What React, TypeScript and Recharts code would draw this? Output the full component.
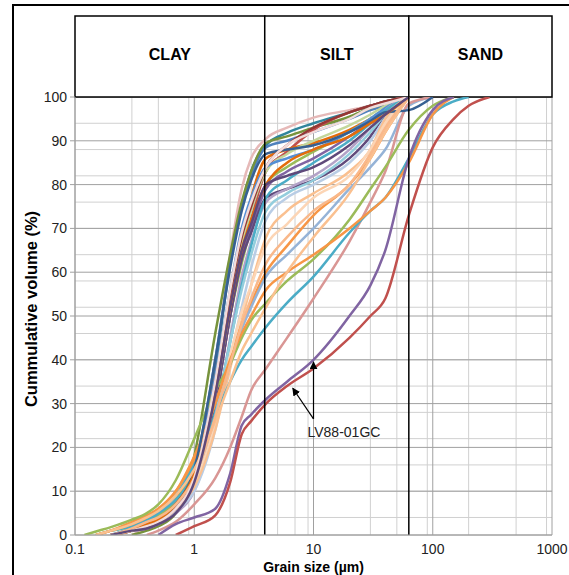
import React from 'react'
import { LineChart, Line, XAxis, YAxis, CartesianGrid, ReferenceLine, ReferenceArea, ReferenceDot } from 'recharts'

const _ = null

// grain sizes (µm) the analyser reports cumulative volume at
const grainSizes = [0.12, 0.15, 0.2, 0.3, 0.4, 0.5, 0.7, 1, 1.5, 2, 2.5, 3, 4, 6, 10, 20, 30, 40, 63, 100, 150, 200, 300]

// cumulative volume (%) per sample, aligned with grainSizes
const s01 = [_, _, _, 0, 1.5, 3, 6, 13, 38, 64, 79, 86, 90.5, 93, 95.3, 97, 98, 99, 100]
const s02 = [_, _, 0, 1, 2, 3, 6, 14, 38, 62, 75, 83, 89, 91.8, 94, 96.5, 98, 99, 100]
const s03 = [_, _, 0, 1.5, 2.5, 4, 7, 15, 40, 62, 75, 82, 88.5, 90, 92, 95, 97, 98, 100]
const s04 = [_, _, _, 0, 1, 2, 5, 18, 46, 64, 76, 83, 89.5, 91, 93, 95.5, 97.5, 98.5, 100]
const s05 = [_, _, 0, 1, 2, 3, 6, 12, 30, 50, 63, 72, 83, 87.5, 92.5, 96.5, 98, 99, 100]
const s06 = [_, _, 0, 1, 2.5, 4, 8, 16, 36, 55, 68, 77, 86, 88, 89.5, 92.5, 95, 97, 100]
const s07 = [_, 0, 1, 2, 3.5, 4.5, 8, 15, 33, 50, 62, 70, 80, 84, 87.5, 92, 95, 97.5, 100]
const s08 = [_, _, 0, 1, 2, 3, 6, 12, 30, 50, 63, 70, 79, 83, 86, 91, 94.5, 97, 100]
const s09 = [_, _, 0, 1, 1.5, 2.5, 5, 11, 30, 50, 63, 69, 77, 79, 81, 86, 91, 96, 100]
const s10 = [_, _, 0, 1, 2, 3, 6, 12, 32, 52, 66, 74, 83, 87, 90, 93.5, 96, 98, 100]
const s11 = [_, _, 0, 1, 2.5, 3.5, 7, 14, 36, 56, 70, 77, 84, 86, 88, 92, 95, 97.5, 100]
const s12 = [_, _, 0, 1, 1.5, 2.5, 5, 10, 26, 45, 59, 67, 76, 79, 82, 88, 93, 97, 100]
const s13 = [_, 0, 1, 2, 3.5, 5, 8, 14, 28, 44, 57, 66, 77, 81, 85, 90, 94, 97, 100]
const s14 = [_, _, 0, 1, 2, 3, 5.5, 11, 27, 44, 56, 64, 74, 78, 81, 87, 92, 96, 100]
const s15 = [_, _, 0, 1, 2, 3, 5.5, 10, 24, 40, 52, 61, 72, 77, 80, 85, 90, 95, 100]
const s16 = [_, _, 0, 1, 2, 3, 6, 11, 24, 38, 49, 57, 68, 74, 78, 83, 88, 95, 100]
const s17 = [_, 0, 1, 3, 4.5, 6, 10, 17, 30, 40, 48, 53, 60, 66, 73, 80, 86, 92, 100]
const s18 = [_, _, 0, 1, 2, 3, 6, 12, 26, 41, 51, 57, 66, 71, 77, 82, 88, 94, 100]
const s19 = [_, _, 0, 1, 2.5, 3.5, 7, 13, 27, 39, 47, 52, 59, 64, 70, 79, 84, 88, 98, 100]
const s20 = [_, _, _, _, 0, 1, 3, 7, 13, 20, 27, 33, 38, 45, 54, 67, 76, 83, 98.5, 100]
const s21 = [0, 0.8, 1.8, 3.5, 5, 7, 12.5, 22, 33, 39, 45, 49, 53, 58, 63, 72, 79, 84, 92.5, 98, 100]
const s22 = [_, _, 0, 1.5, 3, 5, 9, 16, 27, 35, 40, 43, 47.5, 53, 59, 69, 74, 77, 86, 96, 99, 100]
const s23 = [_, 0, 1, 2.5, 4, 6, 10, 18, 30, 40, 46, 50, 56, 60, 64, 70, 74, 77, 85, 96, 100]
const s26 = [_, _, 0, 1, 2, 3.5, 7, 15, 40, 61, 74, 81, 87, 88, 89, 92, 94.5, 96.5, 97, 100]
const s27 = [_, _, 0, 1, 2, 3, 6, 13, 34, 55, 68, 75, 84, 89, 93, 96.5, 98, 99, 100]
const s28 = [_, _, 0, 1, 2.5, 3.5, 7, 14, 33, 52, 65, 72, 80, 85, 88, 91, 94, 96, 100]
const s29 = [_, 0, 1, 2.5, 4, 5.5, 9, 15, 26, 35, 42, 46, 52, 60, 68, 78, 86, 92, 100]
const s30 = [_, _, 0, 1.5, 3, 4, 7, 13, 27, 39, 48, 54, 62, 68, 74, 80, 87, 93, 100]
const s31 = [_, _, 0, 1, 2, 3, 6, 13, 35, 56, 69, 76, 84, 89, 92, 95, 97.5, 98.5, 100]
const s32 = [_, _, 0, 1, 1.5, 2.5, 5, 12, 32, 52, 65, 71, 80, 82, 84, 89, 93, 96, 100]
// LV88-01GC
const lv88a = [_, _, _, _, _, 0, 2.5, 4, 6, 14, 25, 27.5, 31, 35, 40, 50, 57, 65, 86, 97, 100]
const lv88b = [_, _, _, _, _, _, 0, 2, 4.5, 12, 23, 26, 30, 34, 38, 45, 50, 54, 73, 88.5, 95, 98, 100]

const series = [
  { key: 's01', color: '#E6B9B8', values: s01 },
  { key: 's02', color: '#31859C', values: s02 },
  { key: 's03', color: '#4F81BD', values: s03 },
  { key: 's04', color: '#77933C', values: s04 },
  { key: 's05', color: '#C0504D', values: s05 },
  { key: 's06', color: '#E46C0A', values: s06 },
  { key: 's07', color: '#9BBB59', values: s07 },
  { key: 's08', color: '#8064A2', values: s08 },
  { key: 's09', color: '#604A7B', values: s09 },
  { key: 's10', color: '#C3D69B', values: s10 },
  { key: 's11', color: '#558ED5', values: s11 },
  { key: 's12', color: '#B3A2C7', values: s12 },
  { key: 's13', color: '#4BACC6', values: s13 },
  { key: 's14', color: '#93CDDD', values: s14 },
  { key: 's15', color: '#B9CDE5', values: s15 },
  { key: 's16', color: '#FAC090', values: s16 },
  { key: 's17', color: '#F79646', values: s17 },
  { key: 's18', color: '#FCD5B5', values: s18 },
  { key: 's19', color: '#95B3D7', values: s19 },
  { key: 's20', color: '#D99694', values: s20 },
  { key: 's21', color: '#9BBB59', values: s21 },
  { key: 's22', color: '#4BACC6', values: s22 },
  { key: 's23', color: '#F79646', values: s23 },
  { key: 's26', color: '#376092', values: s26 },
  { key: 's27', color: '#953735', values: s27 },
  { key: 's28', color: '#E46C0A', values: s28 },
  { key: 's29', color: '#FAC090', values: s29 },
  { key: 's30', color: '#F9B88A', values: s30 },
  { key: 's31', color: '#F2DCDB', values: s31 },
  { key: 's32', color: '#5F497A', values: s32 },
  { key: 'lv88a', color: '#8064A2', values: lv88a },
  { key: 'lv88b', color: '#C0504D', values: lv88b },
]

const xTicks = [0.1, 1, 10, 100, 1000]
const yTicks = [0, 10, 20, 30, 40, 50, 60, 70, 80, 90, 100]
const xMinor = [0.1, 1, 10, 100].flatMap((d) => [2, 3, 4, 5, 6, 7, 8, 9].map((m) => +(d * m).toPrecision(3)))
const yMinor = Array.from({ length: 51 }, (_v, i) => i * 2)

// Wentworth class limits (µm)
const classes = [
  { name: 'CLAY', from: 0.1, to: 3.9 },
  { name: 'SILT', from: 3.9, to: 63 },
  { name: 'SAND', from: 63, to: 1000 },
]

const rows = grainSizes.map((size, i) => {
  const row: Record<string, number | null> = { size }
  series.forEach((s) => {
    row[s.key] = s.values[i] ?? null
  })
  return row
})

const font = '"Liberation Sans", Arial, sans-serif'

const arrow = (props: any) => (
  <line x1={props.x1} y1={props.y1} x2={props.x2} y2={props.y2} stroke="#000" strokeWidth={1.2} markerEnd="url(#arrowHead)" />
)

export default function App() {
  return (
    <div style={{ position: 'absolute', left: 0, top: 0, width: 569, height: 575, background: '#fff', overflow: 'hidden', fontFamily: font }}>
      <svg width={0} height={0} style={{ position: 'absolute' }}>
        <defs>
          <marker id="arrowHead" viewBox="0 0 10 10" refX="9" refY="5" markerWidth="8" markerHeight="8" markerUnits="userSpaceOnUse" orient="auto">
            <path d="M0,0 L10,5 L0,10 z" fill="#000" />
          </marker>
        </defs>
      </svg>
      <div style={{ position: 'absolute', left: 12, top: 4, width: 557, height: 571, borderLeft: '2px solid #000', borderTop: '2px solid #000', boxSizing: 'border-box' }} />
      <div style={{ position: 'absolute', left: 0, top: 0 }}>
        <LineChart width={569} height={575} data={rows} margin={{ top: 97, right: 17, left: 35, bottom: 10 }}>
          <CartesianGrid stroke="#d0d0d0" strokeWidth={1} verticalValues={xMinor} horizontalValues={yMinor} />
          <CartesianGrid stroke="#a0a0a0" strokeWidth={1} verticalValues={xTicks} horizontalValues={yTicks} />
          <XAxis
            dataKey="size"
            type="number"
            scale="log"
            domain={[0.1, 1000]}
            ticks={xTicks}
            allowDataOverflow
            tickFormatter={(v) => String(v)}
            tick={{ fontSize: 14, fill: '#222', fontFamily: font }}
            tickLine={false}
            axisLine={{ stroke: '#a0a0a0' }}
            tickMargin={3}
            height={30}
          />
          <YAxis
            type="number"
            domain={[0, 100]}
            ticks={yTicks}
            allowDataOverflow
            tick={{ fontSize: 14, fill: '#222', fontFamily: font }}
            tickLine={{ stroke: '#a0a0a0' }}
            tickSize={5}
            tickMargin={3}
            axisLine={{ stroke: '#a0a0a0' }}
            width={40}
          />
          {series.map((s) => (
            <Line
              key={s.key}
              dataKey={s.key}
              type="monotone"
              stroke={s.color}
              strokeWidth={2.5}
              dot={false}
              connectNulls={false}
              isAnimationActive={false}
            />
          ))}
          <ReferenceLine x={3.9} stroke="#000" strokeWidth={1.5} />
          <ReferenceLine x={63} stroke="#000" strokeWidth={1.5} />
          {classes.map((c) => (
            <ReferenceArea
              key={c.name}
              x1={c.from}
              x2={c.to}
              y1={100}
              y2={118.5}
              ifOverflow="visible"
              fill="#fff"
              fillOpacity={1}
              stroke="#000"
              strokeWidth={1.5}
              label={{ value: c.name, position: 'center', fontSize: 16, fontWeight: 'bold', fill: '#000', fontFamily: font, dy: -2 }}
            />
          ))}
          <ReferenceLine segment={[{ x: 10, y: 26.5 }, { x: 10, y: 39.5 }]} shape={arrow} />
          <ReferenceLine segment={[{ x: 10, y: 26.5 }, { x: 6.7, y: 33.5 }]} shape={arrow} />
          <ReferenceDot
            x={10}
            y={23.5}
            r={0}
            shape={(p: any) => (
              <text x={p.cx - 6} y={p.cy} dominantBaseline="central" fontSize={14} fill="#222" fontFamily={font}>
                LV88-01GC
              </text>
            )}
          />
        </LineChart>
      </div>
      <div style={{ position: 'absolute', left: 0, width: 627, top: 560, lineHeight: '14px', textAlign: 'center', fontSize: 14, fontWeight: 'bold', color: '#000' }}>
        Grain size (µm)
      </div>
      <div
        style={{
          position: 'absolute',
          left: 31,
          top: 309,
          transform: 'translate(-50%, -50%) rotate(-90deg)',
          whiteSpace: 'nowrap',
          fontSize: 16.5,
          fontWeight: 'bold',
          color: '#000',
        }}
      >
        Cummulative volume (%)
      </div>
    </div>
  )
}
